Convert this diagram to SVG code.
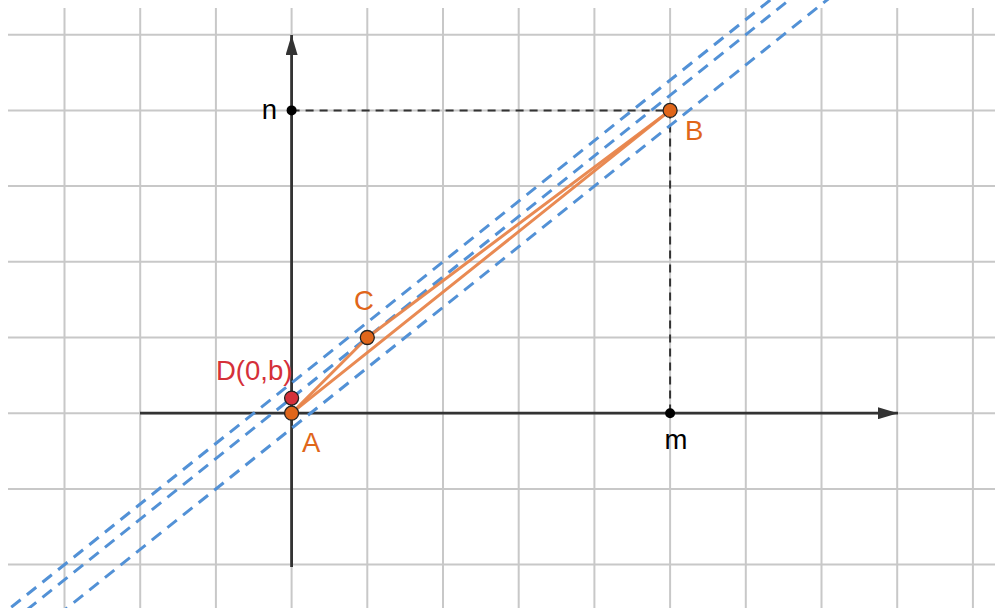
<svg xmlns="http://www.w3.org/2000/svg" width="995" height="608" viewBox="0 0 995 608">
<style>
.grid line{stroke:#c8c8c8;stroke-width:2}
.blue{stroke:#5291d6;stroke-width:3;stroke-dasharray:12 8;fill:none}
.axis{stroke:#333;stroke-width:2.8}
.guide{stroke:#333;stroke-width:2;stroke-dasharray:8 6}
.seg{stroke:#e8844a;stroke-width:3;stroke-linecap:round;opacity:0.95}
.pt{stroke:#222;stroke-width:1.3}
.lbl{font-family:"Liberation Sans",Arial,sans-serif;font-size:27.5px}
</style>
<defs>
<marker id="arr" viewBox="0 0 20 12" refX="20" refY="6" markerWidth="20" markerHeight="12" markerUnits="userSpaceOnUse" orient="auto">
<path d="M0,0 L20,6 L0,12 Z" fill="#333"/>
</marker>
</defs>
<rect width="995" height="608" fill="#fff"/>
<g class="grid" id="grid">
<line x1="64.5" y1="8" x2="64.5" y2="608"/>
<line x1="140.2" y1="8" x2="140.2" y2="608"/>
<line x1="215.9" y1="8" x2="215.9" y2="608"/>
<line x1="291.6" y1="8" x2="291.6" y2="608"/>
<line x1="367.3" y1="8" x2="367.3" y2="608"/>
<line x1="443" y1="8" x2="443" y2="608"/>
<line x1="518.7" y1="8" x2="518.7" y2="608"/>
<line x1="594.4" y1="8" x2="594.4" y2="608"/>
<line x1="670.1" y1="8" x2="670.1" y2="608"/>
<line x1="745.8" y1="8" x2="745.8" y2="608"/>
<line x1="821.5" y1="8" x2="821.5" y2="608"/>
<line x1="897.2" y1="8" x2="897.2" y2="608"/>
<line x1="972.9" y1="8" x2="972.9" y2="608"/>
<line x1="8" y1="34.7" x2="995" y2="34.7"/>
<line x1="8" y1="110.4" x2="995" y2="110.4"/>
<line x1="8" y1="186.1" x2="995" y2="186.1"/>
<line x1="8" y1="261.8" x2="995" y2="261.8"/>
<line x1="8" y1="337.5" x2="995" y2="337.5"/>
<line x1="8" y1="413.2" x2="995" y2="413.2"/>
<line x1="8" y1="488.9" x2="995" y2="488.9"/>
<line x1="8" y1="564.6" x2="995" y2="564.6"/>
</g>
<g id="axes">
<line class="axis" x1="140" y1="413.2" x2="898" y2="413.2" marker-end="url(#arr)"/>
<line class="axis" x1="291.6" y1="567" x2="291.6" y2="35" marker-end="url(#arr)"/>
</g>
<g id="connectors">
<line class="guide" x1="291.6" y1="110.4" x2="670.1" y2="110.4"/>
<line class="guide" x1="670.1" y1="110.4" x2="670.1" y2="413.2"/>
<line class="blue" x1="-20" y1="632.2" x2="1000" y2="-183.8"/>
<line class="blue" x1="-20" y1="647.34" x2="1000" y2="-168.66"/>
<line class="blue" x1="-20" y1="677.62" x2="1000" y2="-138.38"/>
<line class="seg" x1="291.6" y1="413.2" x2="367.3" y2="337.5"/>
<line class="seg" x1="367.3" y1="337.5" x2="670.1" y2="110.4"/>
<line class="seg" x1="291.6" y1="413.2" x2="670.1" y2="110.4"/>
</g>
<g id="n">
<circle cx="291.6" cy="110.4" r="5" fill="#000"/>
<text class="lbl" x="277" y="119" text-anchor="end" fill="#000">n</text>
</g>
<g id="m">
<circle cx="670.1" cy="413.2" r="5" fill="#000"/>
<text class="lbl" x="676" y="449" text-anchor="middle" fill="#000">m</text>
</g>
<g id="D">
<circle class="pt" cx="291.6" cy="398.1" r="7" fill="#d5303a"/>
<text class="lbl" x="216" y="380" fill="#d5303a">D(0,b)</text>
</g>
<g id="A">
<circle class="pt" cx="291.6" cy="413.2" r="7" fill="#e0661a"/>
<text class="lbl" x="302" y="452" fill="#e0661a">A</text>
</g>
<g id="C">
<circle class="pt" cx="367.3" cy="337.5" r="7" fill="#e0661a"/>
<text class="lbl" x="354" y="310" fill="#e0661a">C</text>
</g>
<g id="B">
<circle class="pt" cx="670.1" cy="110.4" r="7" fill="#e0661a"/>
<text class="lbl" x="685" y="140" fill="#e0661a">B</text>
</g>
</svg>
